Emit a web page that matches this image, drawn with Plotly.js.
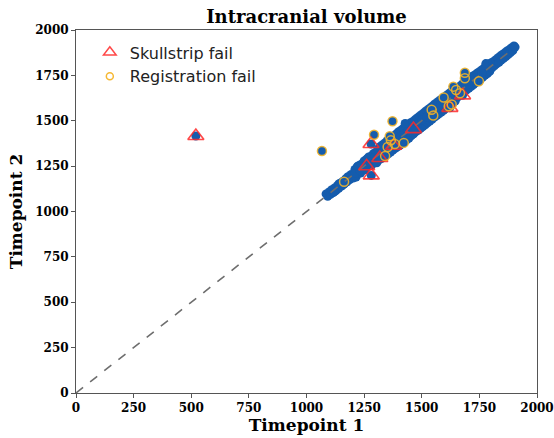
<!DOCTYPE html>
<html>
<head>
<meta charset="utf-8">
<script src="https://cdn.plot.ly/plotly-3.0.1.min.js"></script>
<style>html,body{margin:0;padding:0;background:#fff;}#chart{width:554px;height:438px;}</style>
</head>
<body>
<div id="chart"></div>
<script>
// All subjects: Timepoint 1 vs Timepoint 2 (intracranial volume)
const allX = [520,1067,
1085,1092,1098,1104,1110,1116,1122,1128,1134,1140,1146,1152,1158,1164,1170,1176,1182,1188,1194,1200,1120,1140,1160,1180,
1205,1210,1215,1220,1225,1230,1235,1240,1245,1250,1255,1260,1265,1270,1275,1280,1285,1290,1295,1300,1212,1232,1252,1272,1292,1222,1262,1282,
1305,1310,1315,1320,1325,1330,1335,1340,1345,1350,1355,1360,1365,1370,1375,1380,1385,1390,1395,1400,1405,1410,1415,1420,1425,1430,1435,1440,1445,1450,1312,1328,1342,1358,1378,1394,1408,1422,1438,1428,
1455,1460,1465,1470,1475,1480,1485,1490,1495,1500,1505,1510,1515,1520,1525,1530,1535,1540,1545,1550,1555,1560,1565,1570,1575,1580,1585,1590,1595,1600,1605,1610,1615,1620,1625,1630,1635,1640,1645,1650,1462,1482,1502,1522,1542,1562,1582,1602,1622,1642,
1655,1660,1665,1670,1675,1680,1685,1690,1695,1700,1705,1710,1715,1720,1725,1730,1735,1740,1745,1750,1755,1760,1765,1770,1775,1780,1785,1790,1795,1800,1672,1702,1732,1762,1792,1778,
1805,1810,1815,1820,1825,1830,1835,1840,1845,1850,1855,1860,1865,1870,1875,1880,1885,1890,1895,1900,1905,
1163,1293,1373,1361,1352,1341,1383,1366,1422,1543,1550,1595,1617,1630,1637,1649,1666,1687,1687,1748,
1280,1318,1261,1281,1378,1464,1622,1677];
const allY = [1416,1333,
1097,1084,1108,1094,1120,1104,1130,1115,1142,1128,1156,1140,1166,1152,1180,1164,1190,1176,1204,1188,1108,1152,1148,1192,
1185,1232,1190,1245,1210,1255,1212,1262,1228,1278,1230,1285,1248,1300,1252,1305,1262,1318,1270,1325,1212,1225,1248,1268,1296,1250,1290,1255,
1268,1345,1285,1358,1292,1368,1300,1378,1310,1390,1318,1400,1328,1408,1338,1418,1348,1428,1356,1440,1365,1448,1375,1458,1385,1468,1395,1478,1405,1488,1308,1330,1345,1360,1372,1392,1410,1425,1440,1485,
1418,1495,1428,1505,1440,1515,1448,1525,1458,1535,1468,1545,1478,1555,1488,1565,1498,1575,1508,1585,1520,1595,1528,1605,1538,1615,1548,1622,1558,1632,1568,1642,1578,1652,1588,1662,1598,1672,1608,1682,1465,1480,1505,1520,1545,1560,1585,1600,1625,1640,
1630,1685,1640,1695,1650,1705,1660,1715,1670,1725,1680,1735,1690,1745,1700,1752,1710,1762,1720,1770,1730,1780,1740,1790,1752,1800,1760,1812,1772,1818,1675,1700,1735,1760,1795,1815,
1792,1825,1802,1835,1814,1846,1822,1856,1834,1865,1844,1874,1854,1884,1864,1892,1876,1902,1886,1912,1906,
1164,1423,1497,1415,1355,1306,1372,1392,1378,1560,1529,1628,1580,1590,1688,1669,1651,1764,1734,1717,
1372,1295,1249,1199,1362,1454,1571,1640];

// Skullstrip failures
const skullX = [520,1280,1318,1261,1281,1378,1464,1622,1677];
const skullY = [1416,1372,1295,1249,1199,1362,1454,1571,1640];

// Registration failures
const regX = [1067,1163,1293,1373,1361,1352,1341,1383,1366,1422,1543,1550,1595,1617,1630,1637,1649,1666,1687,1687,1748];
const regY = [1333,1164,1423,1497,1415,1355,1306,1372,1392,1378,1560,1529,1628,1580,1590,1688,1669,1651,1764,1734,1717];

// identity reference line
const lineX = [0, 1900];
const lineY = [0, 1900];

const tickVals = [0,250,500,750,1000,1250,1500,1750,2000];

const serif = "DejaVu Serif";
const traces = [
  {x: allX, y: allY, type: 'scatter', mode: 'markers', showlegend: false,
   marker: {color: '#155cad', size: 9, line: {width: 0}}, hoverinfo: 'skip'},
  {x: lineX, y: lineY, type: 'scatter', mode: 'lines', showlegend: false,
   line: {color: '#6e6e6e', width: 1.6, dash: 'dash'}},
  {x: skullX, y: skullY, type: 'scatter', mode: 'markers', showlegend: false,
   marker: {symbol: 'triangle-up-open', color: 'rgba(255,40,40,0.85)', size: 14, line: {width: 1.6}}},
  {x: regX, y: regY, type: 'scatter', mode: 'markers', showlegend: false,
   marker: {symbol: 'circle-open', color: 'rgba(240,178,40,0.9)', size: 9, line: {width: 1.5}}},
  {x: [null], y: [null], type: 'scatter', mode: 'markers', name: 'Skullstrip fail',
   marker: {symbol: 'triangle-up-open', color: 'rgba(255,40,40,0.85)', size: 11, line: {width: 1.5}}},
  {x: [null], y: [null], type: 'scatter', mode: 'markers', name: 'Registration fail',
   marker: {symbol: 'circle-open', color: 'rgba(245,180,40,0.95)', size: 7, line: {width: 1.5}}}
];

const axisCommon = {
  range: [0, 2000], tickvals: tickVals, ticktext: tickVals.map(String),
  showgrid: false, zeroline: false, showline: true, mirror: true,
  linecolor: '#555', linewidth: 1, ticks: 'outside', ticklen: 4, tickcolor: '#555',
  tickfont: {family: serif, size: 12, weight: 700, color: '#000'}
};

const layout = {
  width: 554, height: 438,
  margin: {l: 76, r: 17, t: 30, b: 45},
  paper_bgcolor: '#fff', plot_bgcolor: '#fff',
  title: {text: 'Intracranial volume', font: {family: serif, size: 18, weight: 700, color: '#000'},
          x: 0.5, xref: 'paper', xanchor: 'center', y: 0.963, yref: 'container', yanchor: 'middle'},
  xaxis: Object.assign({}, axisCommon, {
    title: {text: 'Timepoint 1', font: {family: serif, size: 17, weight: 700, color: '#000'}, standoff: 4}}),
  yaxis: Object.assign({}, axisCommon, {
    title: {text: 'Timepoint 2', font: {family: serif, size: 17, weight: 700, color: '#000'}, standoff: 8}}),
  legend: {x: 0.03, y: 0.985, xanchor: 'left', yanchor: 'top', bgcolor: 'rgba(0,0,0,0)',
           font: {family: 'DejaVu Sans', size: 16, color: '#222'}, tracegroupgap: 0, itemsizing: 'trace'},
  showlegend: true
};

Plotly.newPlot('chart', traces, layout, {displayModeBar: false, staticPlot: true});
</script>
</body>
</html>
